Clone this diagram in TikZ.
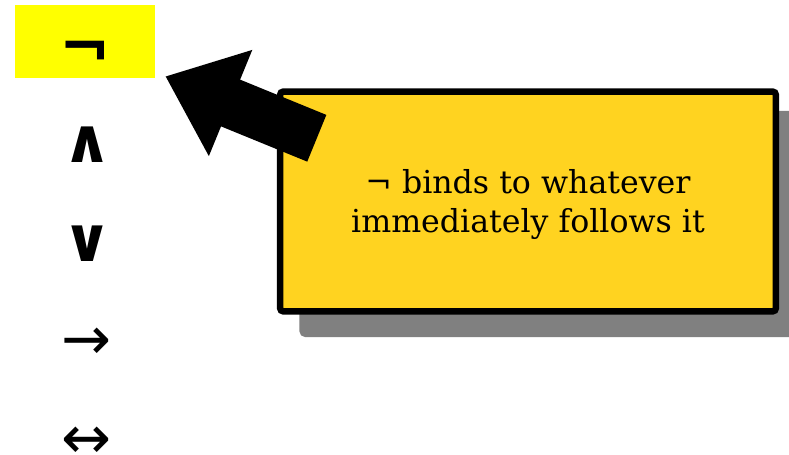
\documentclass[tikz,border=0pt]{standalone}
\usepackage{fontspec}
\setmainfont{DejaVu Serif}
\newfontfamily\opfont{DejaVu Sans}
\usetikzlibrary{arrows.meta, positioning, calc, shadows}
\definecolor{hilite}{HTML}{FFFF00}
\definecolor{notegold}{HTML}{FFD320}
\tikzset{
    op/.style={font=\opfont\bfseries\fontsize{35}{37}\selectfont, inner sep=0pt},
    arr/.style={font=\opfont\fontsize{34}{36}\selectfont, inner sep=0pt},
    current/.style={op, fill=hilite, minimum width=2.8cm, minimum height=1.46cm},
    note/.style={rectangle, draw=black, line width=0.13cm, rounded corners=2pt, fill=notegold,
        minimum width=9.92cm, minimum height=4.4cm,
        drop shadow={shadow xshift=0.45cm, shadow yshift=-0.45cm, fill=black!50, draw=black!50, line width=0.13cm, opacity=1}},
    notetext/.style={align=center, font=\fontsize{18}{22.5}\selectfont, inner sep=0pt},
    bigarrow/.style={line width=1.01cm, -{Triangle[length=1.41cm, width=2.2cm]}}
}

\begin{document}
\begin{tikzpicture}[x=0.02cm, y=-0.02cm]
    \useasboundingbox (0,0) rectangle (789,455);

    % Operators, strongest first
    \node[current] (neg) at (85,41.5) {\raisebox{-0.55cm}[0pt][0pt]{¬}};
    \node[op] (and) at (87,145) {∧};
    \node[op] (or) at (87,244) {∨};
    \node[arr] (imp) at (87,344) {→};
    \node[arr] (iff) at (87,443) {↔};

    % Callout
    \node[note] (hint) at (528,201.5) {};
    \node[notetext] (hinttext) at ([yshift=-0.06cm]hint.center) {¬ binds to whatever\\immediately follows it};

    % Pointer to the top operator
    \coordinate (tail) at ($(hint.north west)+(40,50)$);
    \coordinate (tip) at ($(neg.south east)+(10,-2)$);
    \draw[bigarrow] (tail) -- (tip);
\end{tikzpicture}
\end{document}
